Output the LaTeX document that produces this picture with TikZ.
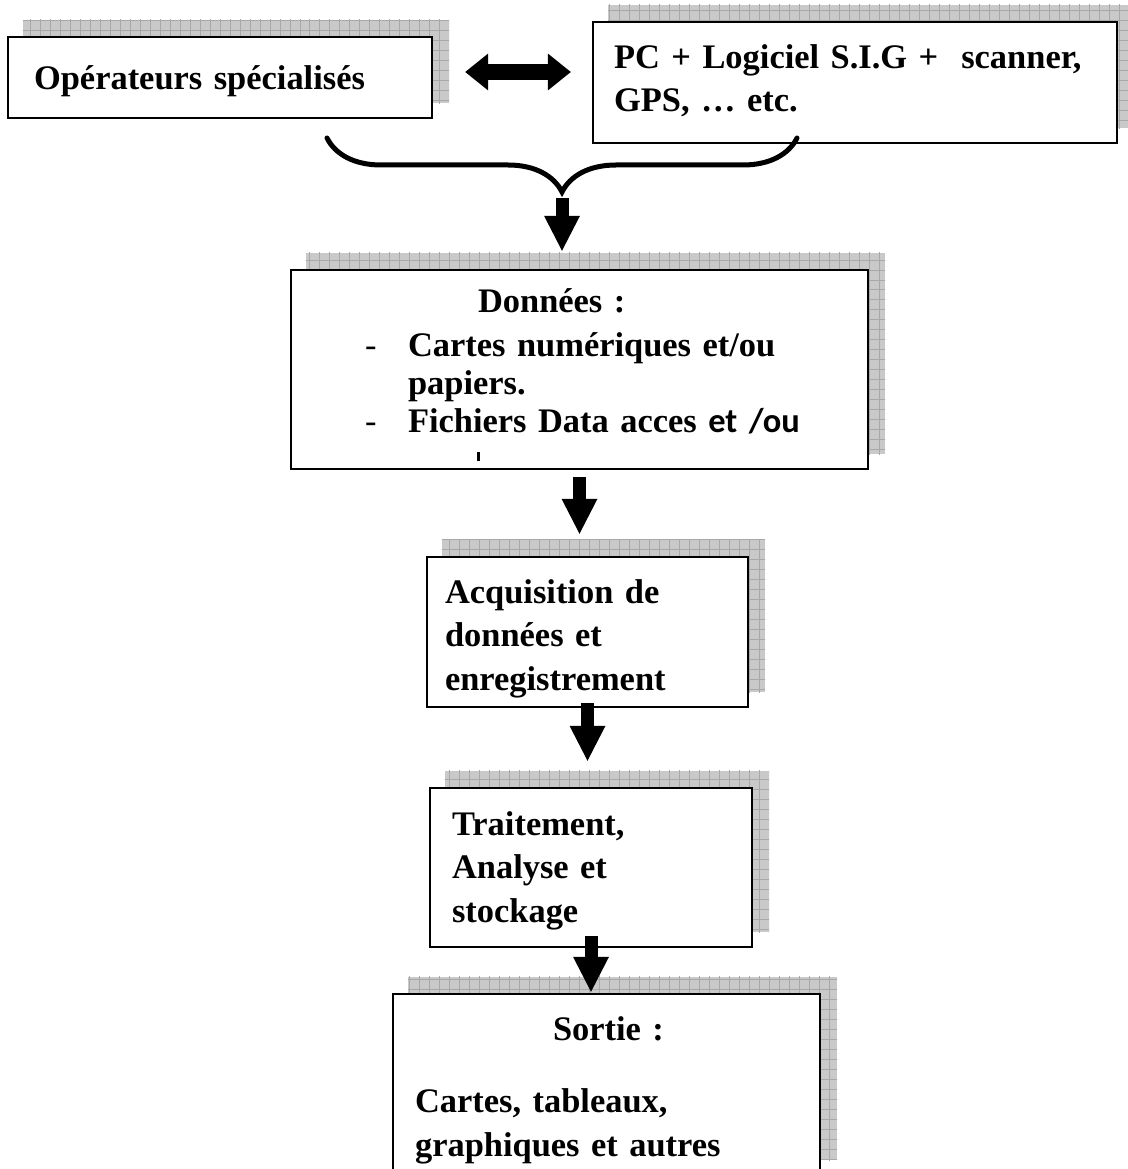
\documentclass[tikz,border=0pt]{standalone}
\usepackage{fontspec}
\setmainfont{Liberation Serif}
\newfontfamily\calibrifont{Carlito}
\usetikzlibrary{arrows.meta,decorations.pathreplacing,backgrounds}

\tikzset{
  shbox/.style={draw, line width=0.05cm, fill=white, inner ysep=0pt, align=left,
    font=\fontsize{19.6}{25}\selectfont\bfseries},
  shadowfill/.style={fill=gray!42},
  shadowgrid/.style={draw=gray!68, line width=0.5pt},
  bigarrow/.style={line width=0.26cm,
    -{Triangle[length=0.7cm, width=0.72cm, line width=0pt]}},
  dblarrow/.style={line width=0.34cm,
    {Triangle[length=0.46cm, width=0.74cm, line width=0pt]}-{Triangle[length=0.46cm, width=0.74cm, line width=0pt]}},
  bracestyle/.style={line width=0.1cm, line cap=round, decorate,
    decoration={brace, mirror, amplitude=1.08cm}},
}

\begin{document}
\begin{tikzpicture}[x=0.02cm, y=-0.02cm]
\useasboundingbox (0,0) rectangle (1127,1169);

% top row: operators and equipment
\node[shbox, minimum width=8.48cm, text width=7.44cm, inner xsep=0.52cm,
  text height=1.06cm, text depth=0.56cm] (ops) at (220,77.5) {Opérateurs spécialisés};
\node[shbox, minimum width=10.48cm, text width=9.64cm, inner xsep=0.42cm,
  text height=0.92cm, text depth=1.5cm] (pc) at (855,82.5)
  {\mbox{PC + Logiciel S.I.G +\ \ scanner,}\\GPS, … etc.};

% data box
\node[shbox, font=\fontsize{19.6}{21.6}\selectfont\bfseries,
  minimum width=11.54cm, text width=10.74cm, inner xsep=0.4cm,
  text height=0.84cm, text depth=3.14cm] (donnees) at (579.5,369.5)
  {\hspace*{3.34cm}Données :\\[0.14cm]
   \hspace*{1.08cm}\makebox[0.86cm][l]{\mdseries -}Cartes numériques et/ou\\
   \hspace*{1.94cm}papiers.\\
   \hspace*{1.08cm}\makebox[0.86cm][l]{\mdseries -}\mbox{Fichiers Data acces {\calibrifont et /ou}}};
\draw[line width=0.06cm] (478,452) -- (478,461);

% processing chain
\node[shbox, minimum width=6.42cm, text width=5.7cm, inner xsep=0.36cm,
  text height=0.92cm, text depth=2.08cm] (acq) at (587.5,632)
  {Acquisition de\\données et\\enregistrement};
\node[shbox, minimum width=6.44cm, text width=5.56cm, inner xsep=0.44cm,
  text height=0.94cm, text depth=2.24cm] (trait) at (591,867.5)
  {Traitement,\\Analyse et\\stockage};
\node[shbox, minimum width=8.54cm, text width=7.66cm, inner xsep=0.44cm,
  text height=0.92cm, text depth=2.7cm] (sortie) at (606.5,1084.5)
  {\hspace*{2.76cm}Sortie :\\[0.58cm]Cartes, tableaux,\\graphiques et autres};

% grey gridded shadows behind the boxes
\begin{scope}[on background layer]
  \foreach \n in {ops,pc,donnees,acq,trait,sortie} {
    \coordinate (sa) at ([shift={(0.32cm,0.32cm)}]\n.south west);
    \coordinate (sb) at ([shift={(0.32cm,0.32cm)}]\n.north east);
    \fill[shadowfill] (sa) rectangle (sb);
    \begin{scope}
      \clip (sa) rectangle (sb);
      \draw[shadowgrid, step=0.2cm] ([shift={(-0.2cm,-0.2cm)}]sa) grid ([shift={(0.2cm,0.2cm)}]sb);
    \end{scope}
  }
\end{scope}

% connectors
\coordinate (ha) at ([xshift=0.64cm, yshift=0.11cm]ops.east);
\coordinate (hb) at ([xshift=-0.42cm, yshift=0.11cm]ops.east -| pc.west);
\draw[dblarrow] (ha) -- (hb);

\coordinate (bl) at (327,138);
\coordinate (br) at (797,138);
\draw[bracestyle] (bl) -- (br);
\coordinate (bt) at (562,198);
\draw[bigarrow] (bt) -- ([yshift=0.36cm]bt |- donnees.north);

\draw[bigarrow] ([yshift=-0.14cm]donnees.south) -- ([yshift=0.44cm]donnees.south |- acq.north);
\draw[bigarrow] ([yshift=0.1cm]acq.south) -- ([yshift=0.52cm]acq.south |- trait.north);
\draw[bigarrow] ([yshift=0.24cm]trait.south) -- ([yshift=0.02cm]trait.south |- sortie.north);
\end{tikzpicture}
\end{document}
